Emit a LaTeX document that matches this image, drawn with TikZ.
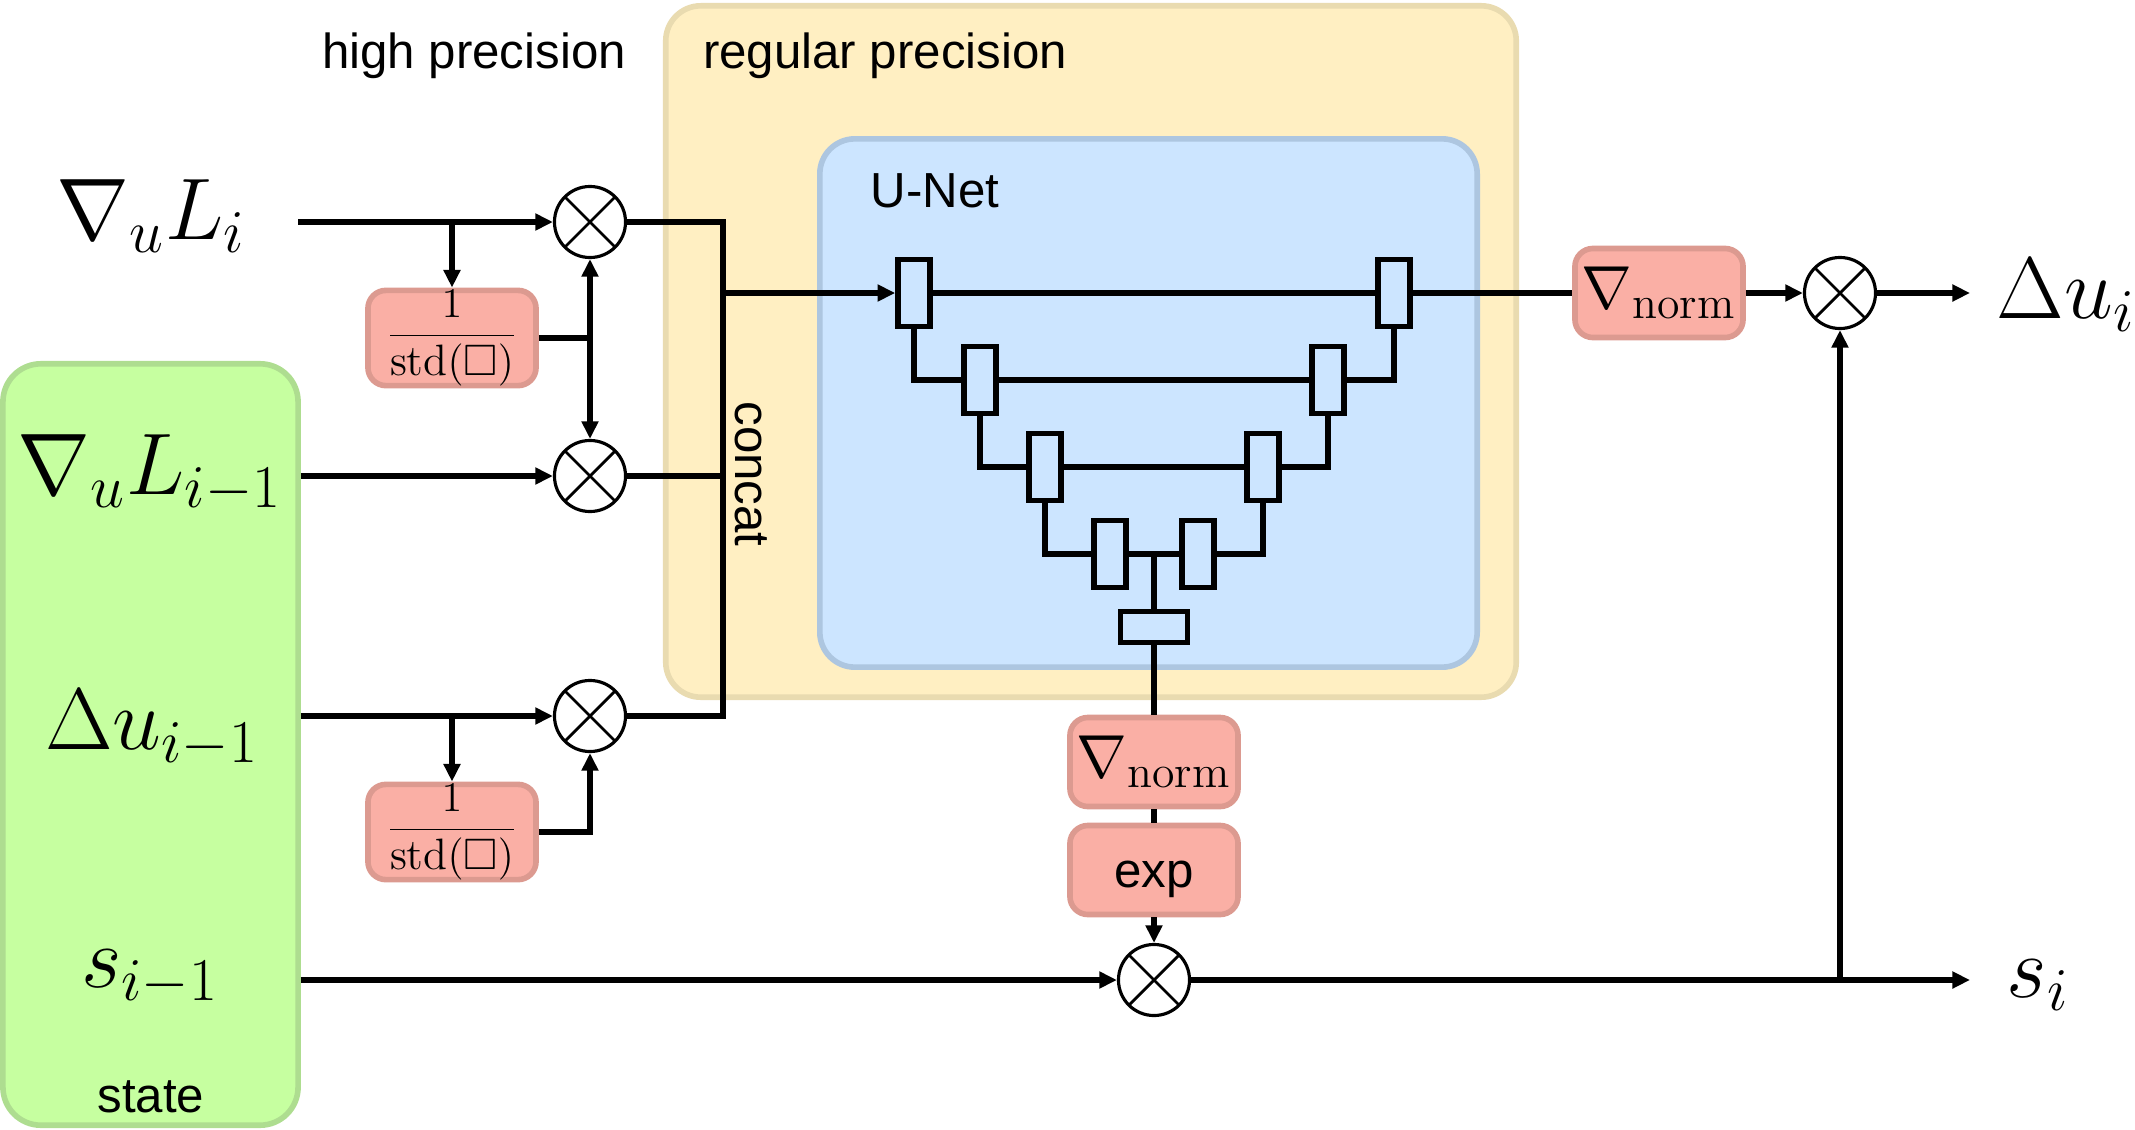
\documentclass[tikz,border=0pt]{standalone}
\usepackage{amsmath,amssymb}
\usepackage{fontspec}
\setsansfont{Liberation Sans}
\usetikzlibrary{arrows.meta,calc}
\definecolor{yelf}{HTML}{FFEFC2}
\definecolor{yelb}{HTML}{E9DBB0}
\definecolor{bluf}{HTML}{CCE5FF}
\definecolor{blub}{HTML}{ADC6E0}
\definecolor{grnf}{HTML}{C6FFA0}
\definecolor{grnb}{HTML}{AEDD90}
\definecolor{redf}{HTML}{FAAFA5}
\definecolor{redb}{HTML}{DC9A90}
\begin{document}
\begin{tikzpicture}[x=0.01cm,y=-0.01cm,
  lab/.style={font=\fontsize{14}{16}\selectfont\sffamily, inner sep=0},
  mth/.style={font=\fontsize{23.5}{27}\selectfont, inner sep=0, anchor=base},
  redbox/.style={draw=redb, fill=redf, line width=1.6pt, rounded corners=0.18cm,
    minimum width=1.68cm, minimum height=0.89cm, inner sep=0},
  mult/.style={circle, draw, line width=0.9pt, fill=white, minimum size=0.71cm, inner sep=0,
    path picture={\draw[line width=0.8pt] (path picture bounding box.north west) -- (path picture bounding box.south east)
      (path picture bounding box.north east) -- (path picture bounding box.south west);}},
  ublock/.style={draw, line width=1.6pt, fill=bluf, minimum width=0.32cm, minimum height=0.67cm, inner sep=0},
  wire/.style={line width=1.6pt},
  arr/.style={wire, -{Triangle[length=5pt,width=4.6pt]}}
]
\useasboundingbox (0,0) rectangle (2135,1130);

% containers
\node[draw=yelb, fill=yelf, line width=1.6pt, rounded corners=0.35cm, minimum width=8.50cm, minimum height=6.91cm, inner sep=0] (reg) at (1091,351.5) {};
\node[draw=blub, fill=bluf, line width=1.6pt, rounded corners=0.35cm, minimum width=6.57cm, minimum height=5.28cm, inner sep=0] (unet) at (1148.5,403) {};
\node[draw=grnb, fill=grnf, line width=1.6pt, rounded corners=0.38cm, minimum width=2.95cm, minimum height=7.61cm, inner sep=0] (stbox) at (150.5,744.5) {};

% labels
\node[lab, anchor=base] (hp) at (474,68) {high precision};
\node[lab, anchor=base] (rp) at (885,68) {regular precision};
\node[lab, anchor=base] (un) at (935,207) {U-Net};
\node[lab, rotate=-90] (cc) at (751,474) {concat};
\node[lab, anchor=base] (st) at (151,1112) {state};

% math labels
\node[mth] (t1) at (151,239) {$\nabla_u L_i$};
\node[mth] (t2) at (150,494) {$\nabla_u L_{i-1}$};
\node[mth] (t3) at (152,749) {$\Delta u_{i-1}$};
\node[mth] (t4) at (150,987) {$s_{i-1}$};
\node[mth, anchor=base west] (t5) at (1996,318) {$\Delta u_i$};
\node[mth, anchor=base west] (t6) at (2006,997) {$s_i$};

% multipliers
\node[mult] (c1) at (590,222) {};
\node[mult] (c2) at (590,476) {};
\node[mult] (c3) at (590,716) {};
\node[mult] (c4) at (1154,980) {};
\node[mult] (c5) at (1840,293) {};

% red boxes
\node[redbox, font=\fontsize{12.5}{14}\selectfont] (sd1) at (452,338) {$\dfrac{1}{\mathrm{std}(\square)}$};
\node[redbox, font=\fontsize{12.5}{14}\selectfont] (sd2) at (452,832) {$\dfrac{1}{\mathrm{std}(\square)}$};
\node[redbox, font=\fontsize{18.6}{21}\selectfont] (nm1) at (1154,762) {$\nabla_{\mathrm{norm}}$};
\node[redbox] (ex) at (1154,870) {};
\node[lab, anchor=base] (extxt) at (1154,887) {exp};
\node[redbox, font=\fontsize{18.6}{21}\selectfont] (nm2) at (1659,293) {$\nabla_{\mathrm{norm}}$};

% U-Net blocks
\node[ublock] (e1) at (914,293) {};
\node[ublock] (e2) at (980,380) {};
\node[ublock] (e3) at (1045,467) {};
\node[ublock] (e4) at (1110,554) {};
\node[ublock] (d4) at (1198,554) {};
\node[ublock] (d3) at (1263,467) {};
\node[ublock] (d2) at (1328,380) {};
\node[ublock] (d1) at (1394,293) {};
\node[ublock, minimum width=0.67cm, minimum height=0.31cm] (bn) at (1154,627) {};

% coordinates
\coordinate (in1) at (298,222);
\coordinate (b1) at (452,222);
\coordinate (j1) at (590,338);
\coordinate (b2) at (452,716);
\coordinate (cc1) at (723,222);
\coordinate (cc3) at (723,716);
\coordinate (out1) at (1970,293);
\coordinate (out2) at (1970,980);
\coordinate (j5) at (1840,980);

% input side
\draw[arr] (in1) -- (c1);
\draw[arr] (b1) -- (sd1);
\draw[wire] (sd1.east) -- (j1);
\draw[arr] (j1) -- (c1);
\draw[arr] (j1) -- (c2);
\draw[arr] (stbox.east |- c2) -- (c2);
\draw[arr] (stbox.east |- c3) -- (c3);
\draw[arr] (b2) -- (sd2);
\draw[arr] (sd2.east) -| (c3.south);
\draw[arr] (stbox.east |- c4) -- (c4);

% concat
\draw[wire] (c1.east) -- (cc1) -- (cc3) -- (c3.east);
\draw[wire] (c2.east) -- (c2.east -| cc1);
\draw[arr] (cc1 |- e1) -- (e1.west);

% U-Net wiring
\draw[wire] (e1.south) |- (e2.west);
\draw[wire] (e2.south) |- (e3.west);
\draw[wire] (e3.south) |- (e4.west);
\draw[wire] (e1.east) -- (d1.west);
\draw[wire] (e2.east) -- (d2.west);
\draw[wire] (e3.east) -- (d3.west);
\draw[wire] (e4.east) -- (d4.west);
\draw[wire] (d4.east) -| (d3.south);
\draw[wire] (d3.east) -| (d2.south);
\draw[wire] (d2.east) -| (d1.south);
\draw[wire] (bn.north) -- (bn.north |- e4.east);

% output side
\draw[wire] (d1.east) -- (nm2.west);
\draw[arr] (nm2.east) -- (c5.west);
\draw[arr] (c5.east) -- (out1);
\draw[wire] (bn.south) -- (nm1.north);
\draw[wire] (nm1.south) -- (ex.north);
\draw[arr] (ex.south) -- (c4.north);
\draw[arr] (c4.east) -- (out2);
\draw[arr] (j5) -- (c5.south);
\end{tikzpicture}
\end{document}
